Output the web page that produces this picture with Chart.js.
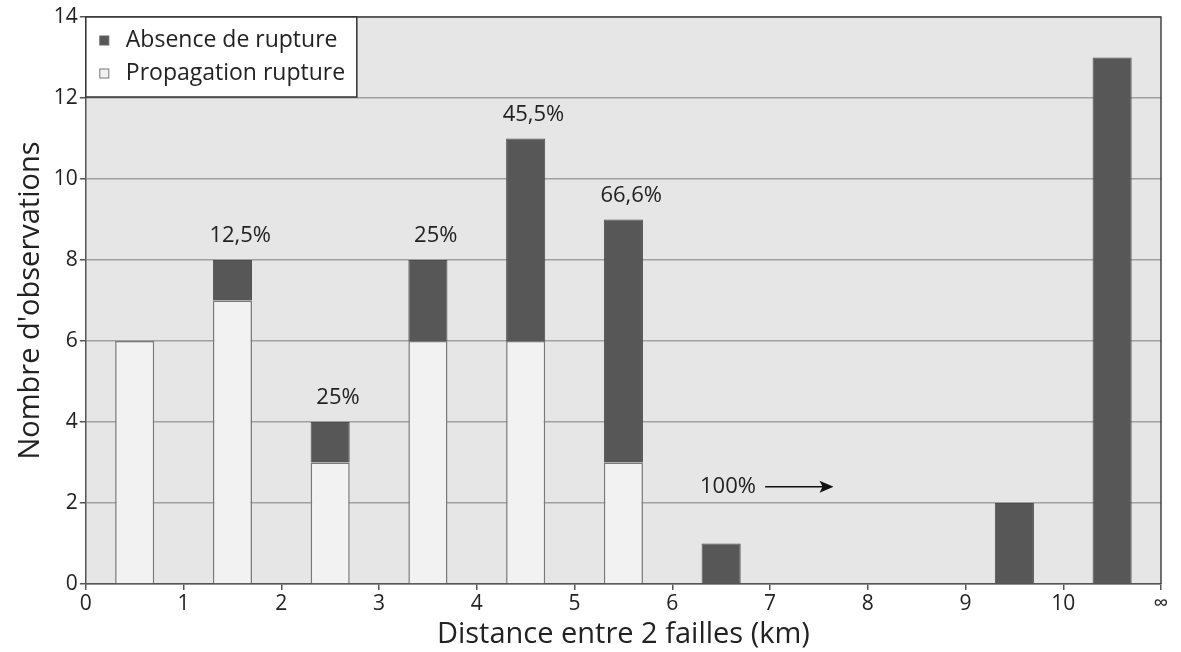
<!DOCTYPE html>
<html>
<head>
<meta charset="utf-8">
<script src="https://cdn.jsdelivr.net/npm/chart.js@4/dist/chart.umd.min.js"></script>
<style>
html,body{margin:0;padding:0;background:#fff;}
#wrap{width:1181px;height:652px;}
</style>
</head>
<body>
<div id="wrap"><canvas id="c" width="1181" height="652"></canvas></div>
<script>
// Data
const binCenters = [0.5, 1.5, 2.5, 3.5, 4.5, 5.5, 6.5, 7.5, 8.5, 9.5, 10.5];
const propagation = [6, 7, 3, 6, 6, 3, null, null, null, null, null];
const absence = [null, 1, 1, 2, 5, 6, 1, null, null, 2, 13];
const pctLabels = [null, "12,5%", "25%", "25%", "45,5%", "66,6%", null, null, null, null, null];
const arrowLabel = "100%";
const xTickLabels = ["0","1","2","3","4","5","6","7","8","9","10","∞"];
const seriesNames = ["Absence de rupture", "Propagation rupture"];
const yTitle = "Nombre d'observations";
const xTitle = "Distance entre 2 failles (km)";

const FONT = "'Open Sans', 'Noto Sans', sans-serif";
const DARK = "#575757";
const LIGHT = "#f2f2f2";

const bgPlugin = {
  id: 'bg',
  beforeDraw(chart) {
    const {ctx, chartArea: a} = chart;
    ctx.save();
    ctx.fillStyle = '#e6e6e6';
    ctx.fillRect(a.left, a.top, a.right - a.left, a.bottom - a.top);
    ctx.restore();
  },
  afterDraw(chart) {
    const {ctx, chartArea: a, scales} = chart;
    const x = scales.x, y = scales.y;
    ctx.save();
    // border top and right
    ctx.strokeStyle = '#444';
    ctx.lineWidth = 1.5;
    ctx.beginPath();
    ctx.moveTo(a.left, a.top);
    ctx.lineTo(a.right, a.top);
    ctx.lineTo(a.right, a.bottom);
    ctx.stroke();
    // percentage labels
    ctx.fillStyle = '#222';
    ctx.font = "22px " + FONT;
    ctx.textAlign = 'center';
    ctx.textBaseline = 'alphabetic';
    pctLabels.forEach((t, i) => {
      if (!t) return;
      const top = (propagation[i] || 0) + (absence[i] || 0);
      ctx.fillText(t, x.getPixelForValue(binCenters[i] + 0.08), y.getPixelForValue(top) - 18);
    });
    // 100% arrow
    const ax = x.getPixelForValue(6.57), ay = y.getPixelForValue(2.4);
    ctx.textBaseline = 'middle';
    ctx.fillText(arrowLabel, ax, ay);
    const x0 = x.getPixelForValue(6.95), x1 = x.getPixelForValue(7.65);
    ctx.strokeStyle = '#111';
    ctx.lineWidth = 1.5;
    ctx.beginPath();
    ctx.moveTo(x0, ay); ctx.lineTo(x1 - 8, ay); ctx.stroke();
    ctx.fillStyle = '#111';
    ctx.beginPath();
    ctx.moveTo(x1, ay); ctx.lineTo(x1 - 14, ay - 6); ctx.lineTo(x1 - 11, ay); ctx.lineTo(x1 - 14, ay + 6); ctx.closePath(); ctx.fill();
    // legend box
    const lx = a.left, ly = a.top, lw = 271, lh = 80;
    ctx.fillStyle = '#fff';
    ctx.fillRect(lx, ly, lw, lh);
    ctx.strokeStyle = '#333';
    ctx.lineWidth = 1.5;
    ctx.strokeRect(lx, ly, lw, lh);
    const items = [
      {t: seriesNames[0], fill: DARK, stroke: '#666'},
      {t: seriesNames[1], fill: LIGHT, stroke: '#777'}
    ];
    ctx.font = "23px " + FONT;
    ctx.textAlign = 'left';
    ctx.textBaseline = 'middle';
    items.forEach((it, k) => {
      const cy = ly + 23 + k * 33;
      ctx.fillStyle = it.fill;
      ctx.fillRect(lx + 14, cy - 4, 9, 9);
      ctx.strokeStyle = it.stroke;
      ctx.lineWidth = 1;
      ctx.strokeRect(lx + 14, cy - 4, 9, 9);
      ctx.fillStyle = '#222';
      ctx.fillText(it.t, lx + 40, cy);
    });
    ctx.restore();
  }
};

new Chart(document.getElementById('c'), {
  type: 'bar',
  data: {
    datasets: [
      {
        label: seriesNames[1],
        data: binCenters.map((x, i) => ({x, y: propagation[i]})),
        backgroundColor: LIGHT,
        borderColor: '#7a7a7a',
        borderWidth: 1.5,
        borderSkipped: 'start',
        stack: 's'
      },
      {
        label: seriesNames[0],
        data: binCenters.map((x, i) => ({x, y: absence[i]})),
        backgroundColor: DARK,
        borderColor: '#4d4d4d',
        borderWidth: 1,
        borderSkipped: 'start',
        stack: 's'
      }
    ]
  },
  options: {
    responsive: false,
    animation: false,
    layout: {padding: {left: 13, right: 20, top: 17, bottom: 0}},
    categoryPercentage: 0.4,
    barPercentage: 1.0,
    plugins: {legend: {display: false}, tooltip: {enabled: false}},
    scales: {
      x: {
        type: 'linear',
        min: 0, max: 11,
        stacked: true,
        offset: false,
        grid: {offset: false, drawOnChartArea: false, drawTicks: true, tickLength: 6, tickColor: '#555', lineWidth: 1.5},
        border: {color: '#555', width: 1.5},
        ticks: {
          stepSize: 1,
          autoSkip: false,
          maxRotation: 0,
          color: '#222',
          font: {family: FONT, size: 21},
          padding: 1,
          callback: (v) => xTickLabels[v] ?? ''
        },
        title: {display: true, text: xTitle, color: '#222', font: {family: FONT, size: 29}, padding: {top: 0, bottom: 0}}
      },
      y: {
        min: 0, max: 14,
        stacked: true,
        grid: {color: '#a0a0a0', lineWidth: 1.5, drawTicks: true, tickLength: 6, tickColor: '#555'},
        border: {color: '#555', width: 1.5},
        ticks: {
          stepSize: 2,
          color: '#222',
          font: {family: FONT, size: 21},
          padding: 2
        },
        title: {display: true, text: yTitle, color: '#222', font: {family: FONT, size: 29}, padding: {top: 0, bottom: 4}}
      }
    }
  },
  plugins: [bgPlugin]
});
</script>
</body>
</html>
